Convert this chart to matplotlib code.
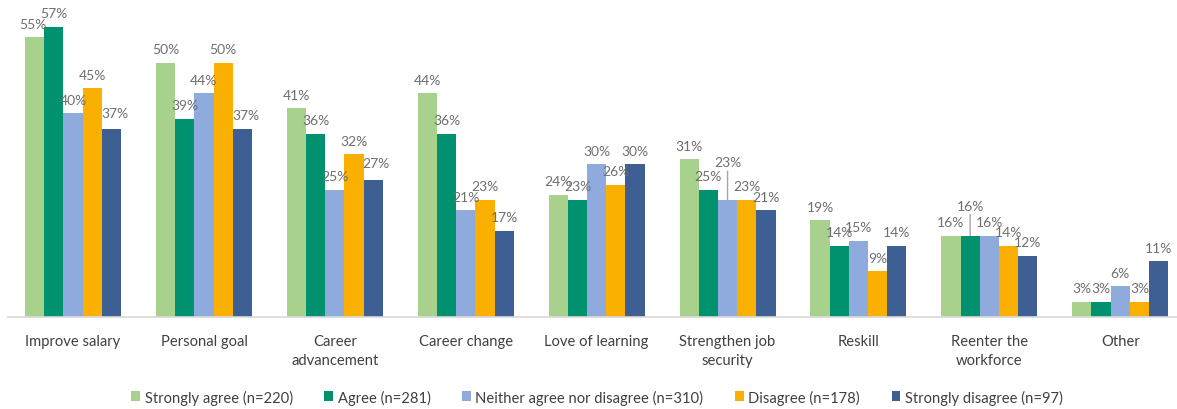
import matplotlib
matplotlib.use("Agg")
import matplotlib.pyplot as plt
from matplotlib.patches import Patch
import numpy as np

categories = ["Improve salary", "Personal goal", "Career\nadvancement", "Career change",
              "Love of learning", "Strengthen job\nsecurity", "Reskill",
              "Reenter the\nworkforce", "Other"]
series_names = ["Strongly agree (n=220)", "Agree (n=281)",
                "Neither agree nor disagree (n=310)", "Disagree (n=178)",
                "Strongly disagree (n=97)"]
strongly_agree = [55, 50, 41, 44, 24, 31, 19, 16, 3]
agree = [57, 39, 36, 36, 23, 25, 14, 16, 3]
neutral = [40, 44, 25, 21, 30, 23, 15, 16, 6]
disagree = [45, 50, 32, 23, 26, 23, 9, 14, 3]
strongly_disagree = [37, 37, 27, 17, 30, 21, 14, 12, 11]

values = [strongly_agree, agree, neutral, disagree, strongly_disagree]
colors = ["#A9D18E", "#00916E", "#8FAADC", "#F9B000", "#3E5F93"]

# label nudges (dx, dy in pixels) and which labels use a leader line
label_shift = {(0, 0): (-2, 0), (4, 0): (3, 2), (4, 1): (4, 0), (4, 2): (3, 3)}
leader = {(2, 5): 24, (1, 7): 16}

plt.rcParams["font.family"] = ["Lato", "DejaVu Sans"]
fig = plt.figure(figsize=(11.77, 4.10), dpi=100)
W, H = 1177, 410
left_px, base_px = 7.6, 318
ax = fig.add_axes([left_px / W, (H - base_px) / H, (W - left_px) / W, base_px / H])

unit_px = 130.9
ax.set_xlim(-0.5, -0.5 + (W - left_px) / unit_px)
ax.set_ylim(0, 62.5)

n = len(values)
group_w = 96 / unit_px
bw = group_w / n
x = np.arange(len(categories))
for i, (vals, col) in enumerate(zip(values, colors)):
    pos = x + (i - (n - 1) / 2) * bw
    ax.bar(pos, vals, width=bw, color=col, edgecolor="none", label=series_names[i])
    for j, v in enumerate(vals):
        dx, dy = label_shift.get((i, j), (0, 0))
        extra = leader.get((i, j), 0)
        ax.annotate(f"{v}%", xy=(pos[j], v), xytext=(dx, 13.5 + dy + extra),
                    textcoords="offset pixels", ha="center", va="center",
                    fontsize=10, color="#6F6F6F")
        if extra:
            ax.annotate("", xy=(pos[j], v), xytext=(0, extra + 5),
                        textcoords="offset pixels",
                        arrowprops=dict(arrowstyle="-", color="#A6A6A6", lw=1,
                                        shrinkA=0, shrinkB=0))

for s in ["top", "right", "left"]:
    ax.spines[s].set_visible(False)
ax.spines["bottom"].set_color("#D9D9D9")
ax.spines["bottom"].set_linewidth(1.2)
ax.set_yticks([])
ax.set_xticks(x)
ax.set_xticklabels(categories, fontsize=10.6, color="#404040", linespacing=1.5)
ax.tick_params(axis="x", length=0, pad=12)

handles = [Patch(facecolor=c, edgecolor="none") for c in colors]
fig.legend(handles, series_names, loc="center", bbox_to_anchor=(597 / W, 1 - 398 / H),
           ncol=5, frameon=False, fontsize=10.6, handlelength=0.6, handleheight=0.65,
           handletextpad=0.3, columnspacing=2.15, labelcolor="#404040")

fig.savefig("out.png", dpi=100)
